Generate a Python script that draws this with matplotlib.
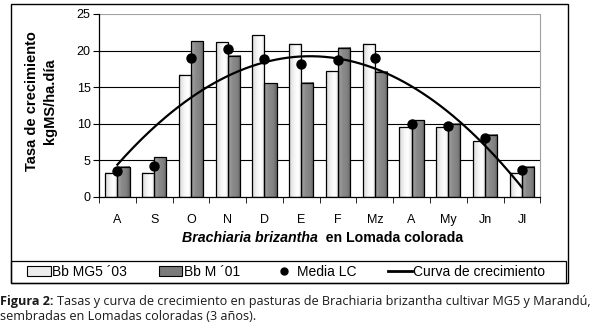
import numpy as np
import matplotlib.pyplot as plt
from matplotlib.patches import Rectangle, Patch
from matplotlib.lines import Line2D

plt.rcParams['font.family'] = ['Liberation Sans', 'DejaVu Sans']

# Monthly growth rates (kgMS/ha.dia)
months = ['A', 'S', 'O', 'N', 'D', 'E', 'F', 'Mz', 'A', 'My', 'Jn', 'Jl']
mg5_03 = [3.3, 3.3, 16.7, 21.1, 22.1, 20.9, 17.2, 20.9, 9.5, 9.5, 7.6, 3.3]
m_01 = [4.1, 5.4, 21.3, 19.3, 15.5, 15.6, 20.4, 17.1, 10.5, 10.0, 8.5, 4.1]
media_lc = [3.6, 4.3, 19.0, 20.2, 18.8, 18.1, 18.7, 19.0, 10.0, 9.7, 8.0, 3.7]

x = np.arange(len(months))
w = 0.33

fig = plt.figure(figsize=(6, 3.24), dpi=100)
ax = fig.add_axes([0.165, 0.392, 0.7355, 0.565])


def gradient_bar(ax, x0, width, height, stops):
    # horizontal grey gradient clipped to the bar, then a black outline
    pos, vals = zip(*stops)
    g = np.interp(np.linspace(0, 1, 64), pos, vals)
    img = np.tile(g, (2, 1))
    ax.imshow(img, cmap='gray', vmin=0, vmax=1, aspect='auto',
              extent=[x0, x0 + width, 0, height], origin='lower',
              interpolation='bilinear', zorder=2)
    ax.add_patch(Rectangle((x0, 0), width, height, fill=False,
                           edgecolor='black', lw=0.9, zorder=3))


light_stops = [(0, 0.84), (0.4, 0.96), (0.7, 1.0), (1, 0.88)]
dark_stops = [(0, 0.64), (0.35, 0.55), (0.75, 0.5), (1, 0.38)]

for i in range(len(months)):
    gradient_bar(ax, x[i] - w, w, mg5_03[i], light_stops)
    gradient_bar(ax, x[i], w, m_01[i], dark_stops)

ax.plot(x, media_lc, 'o', color='black', markersize=6.5, zorder=5)

# second order trend of the mean
coef = np.polyfit(x, media_lc, 2)
xs = np.linspace(0, 11, 200)
ax.plot(xs, np.polyval(coef, xs), color='black', lw=1.6, zorder=4)

ax.set_xlim(-0.5, 11.5)
ax.set_ylim(0, 25)
ax.set_yticks([0, 5, 10, 15, 20, 25])
ax.set_xticks(x)
ax.set_xticklabels(months)
ax.set_xticks(np.arange(-0.5, 12, 1), minor=True)
ax.tick_params(axis='x', which='major', length=0, pad=12, labelsize=9)
ax.tick_params(axis='x', which='minor', length=4, direction='out')
ax.tick_params(axis='y', length=4, direction='out', pad=2, labelsize=9)
for y in [5, 10, 15, 20]:
    ax.axhline(y, color='black', lw=0.8, zorder=1)
ax.axhline(25, color='#a0a0a0', lw=0.8, zorder=1)
ax.spines['top'].set_visible(False)
ax.spines['right'].set_color('#a0a0a0')
ax.spines['left'].set_linewidth(0.9)
ax.spines['bottom'].set_linewidth(0.9)

fig.text(0.053, 0.688, 'Tasa de crecimiento', rotation=90, ha='center',
         va='center', fontsize=10.5, fontweight='bold')
fig.text(0.083, 0.688, 'kgMS/ha.día', rotation=90, ha='center',
         va='center', fontsize=10.5, fontweight='bold')

fig.text(0.5305, 0.265, 'Brachiaria brizantha', ha='right', va='center',
         fontsize=10.2, fontweight='bold', style='italic')
fig.text(0.5305, 0.265, '  en Lomada colorada', ha='left', va='center',
         fontsize=10.2, fontweight='bold')

# frame around chart and legend strip
fig.patches.append(Rectangle((0.0183, 0.1265), 0.9277, 0.8612, fill=False,
                             edgecolor='black', lw=1.0,
                             transform=fig.transFigure, figure=fig))
fig.patches.append(Rectangle((0.0183, 0.1265), 0.9247, 0.069, fill=False,
                             edgecolor='black', lw=0.9,
                             transform=fig.transFigure, figure=fig))

handles = [Patch(facecolor='#ececec', edgecolor='black', lw=0.8),
           Patch(facecolor='#7a7a7a', edgecolor='black', lw=0.8),
           Line2D([], [], marker='o', color='black', ls='none', markersize=5),
           Line2D([], [], color='black', lw=2)]
labels = ['Bb MG5 ´03', 'Bb M ´01', 'Media LC', 'Curva de crecimiento']
fig.legend(handles, labels, loc='center left', bbox_to_anchor=(0.045, 0.161),
           ncol=4, frameon=False, fontsize=10, handlelength=1.7,
           handleheight=0.7, handletextpad=0.1, columnspacing=2.3,
           borderpad=0, borderaxespad=0)

# caption, bold lead followed by regular text
cap_font = ['Open Sans', 'DejaVu Sans']
lead = fig.text(0.0, 0.068, 'Figura 2:', fontsize=9.1, fontweight='bold',
                family=cap_font, color='#1a1a1a', va='center')
renderer = fig.canvas.get_renderer()
lead_end = fig.transFigure.inverted().transform(
    (lead.get_window_extent(renderer).x1, 0))[0]
fig.text(lead_end + 0.006, 0.068, 'Tasas y curva de crecimiento en pasturas de '
         'Brachiaria brizantha cultivar MG5 y Marandú,', fontsize=9.1,
         family=cap_font, color='#1a1a1a', va='center')
fig.text(0.0, 0.022, 'sembradas en Lomadas coloradas (3 años).', fontsize=9.1,
         family=cap_font, color='#1a1a1a', va='center')

fig.savefig('out.png', dpi=100)
